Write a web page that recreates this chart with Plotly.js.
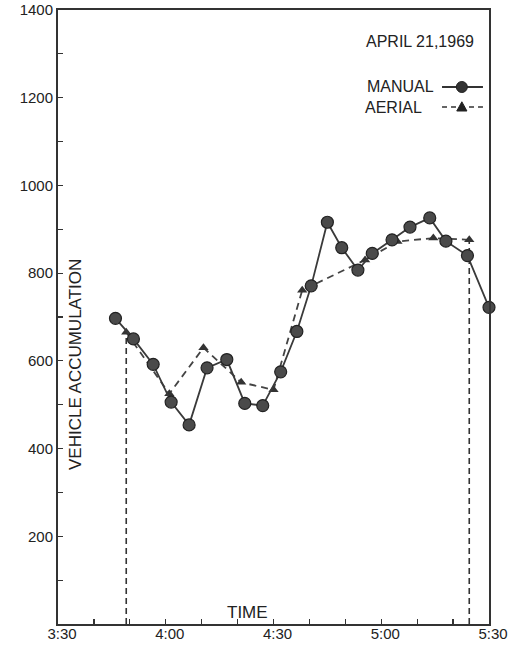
<!DOCTYPE html>
<html>
<head>
<meta charset="utf-8">
<script src="https://cdn.plot.ly/plotly-3.0.1.min.js"></script>
<style>html,body{margin:0;padding:0;background:#fff;}#chart{width:529px;height:645px;}</style>
</head>
<body>
<div id="chart"></div>
<script>
// Minutes after 3:30
const manualTime = [16, 21, 26.5, 31.5, 36.5, 41.5, 47, 52, 57, 62, 66.5, 70.5, 75, 79, 83.5, 87.5, 93, 98, 103.5, 108, 114, 120];
const manualCount = [697, 650, 592, 506, 454, 584, 603, 503, 498, 575, 667, 771, 916, 858, 807, 845, 876, 905, 926, 873, 840, 722];
const aerialTime = [19, 31, 40.5, 51, 60, 68, 85.5, 94.5, 104.5, 114.5];
const aerialCount = [665, 525, 630, 551, 534, 761, 830, 872, 880, 876];

const xTickVals = [0, 10, 20, 30, 40, 50, 60, 70, 80, 90, 100, 110, 120];
const xTickText = ['3:30', '', '', '4:00', '', '', '4:30', '', '', '5:00', '', '', '5:30'];
const yTickVals = [0, 100, 200, 300, 400, 500, 600, 700, 800, 900, 1000, 1100, 1200, 1300, 1400];
const yTickText = ['', '', '200', '', '400', '', '600', '', '800', '', '1000', '', '1200', '', '1400'];

const FONT = 'Liberation Sans, Arial, DejaVu Sans, sans-serif';
const INK = '#333333';

const firstA = 0, lastA = aerialTime.length - 1;

const traces = [
  { x: [aerialTime[firstA], aerialTime[firstA]], y: [0, aerialCount[firstA]], mode: 'lines',
    line: { color: INK, width: 1.6, dash: '6px,4px' }, showlegend: false, hoverinfo: 'skip' },
  { x: [aerialTime[lastA], aerialTime[lastA]], y: [0, aerialCount[lastA]], mode: 'lines',
    line: { color: INK, width: 1.6, dash: '6px,4px' }, showlegend: false, hoverinfo: 'skip' },
  { x: aerialTime, y: aerialCount, mode: 'lines+markers', name: 'AERIAL',
    line: { color: '#444', width: 1.8, dash: '7px,5px' },
    marker: { symbol: 'triangle-up', size: 9, color: '#333' }, showlegend: false, cliponaxis: false },
  { x: manualTime, y: manualCount, mode: 'lines+markers', name: 'MANUAL',
    line: { color: '#3a3a3a', width: 1.8 },
    marker: { symbol: 'circle', size: 12, color: '#4a4a4a', line: { color: '#222', width: 1.2 } },
    showlegend: false, cliponaxis: false }
];

// legend key geometry (paper units; plot area spans 431 x 614 px)
const kx0 = 0.891, kx1 = 0.986, kxc = 0.937;
const ky1 = 0.8746, ky2 = 0.842;
const rx = 5.5 / 431, ry = 5.5 / 614;

const layout = {
  width: 529, height: 645,
  margin: { l: 58, r: 40, t: 10, b: 21 },
  paper_bgcolor: '#fff', plot_bgcolor: '#fff',
  font: { family: FONT, color: '#222' },
  xaxis: {
    range: [0, 120], tickmode: 'array', tickvals: xTickVals, ticktext: xTickText,
    ticks: 'inside', ticklen: 5, tickwidth: 1.2, tickcolor: INK,
    ticklabelstandoff: -5, ticklabelshift: 4,
    showline: true, linecolor: INK, linewidth: 2, mirror: true,
    showgrid: false, zeroline: false, automargin: false,
    tickfont: { size: 15, family: FONT, color: '#222' }
  },
  yaxis: {
    range: [0, 1400], tickmode: 'array', tickvals: yTickVals, ticktext: yTickText,
    ticks: 'inside', ticklen: 5, tickwidth: 1.2, tickcolor: INK,
    showline: true, linecolor: INK, linewidth: 2, mirror: true,
    showgrid: false, zeroline: false, automargin: false,
    tickfont: { size: 15, family: FONT, color: '#222' }
  },
  shapes: [
    { type: 'line', xref: 'paper', yref: 'paper', x0: kx0, x1: kx1, y0: ky1, y1: ky1,
      line: { color: INK, width: 1.8 } },
    { type: 'circle', xref: 'paper', yref: 'paper', x0: kxc - rx, x1: kxc + rx, y0: ky1 - ry, y1: ky1 + ry,
      fillcolor: '#333', line: { color: '#222', width: 1 } },
    { type: 'line', xref: 'paper', yref: 'paper', x0: kx0, x1: kx1, y0: ky2, y1: ky2,
      line: { color: INK, width: 1.6, dash: '5px,4px' } },
    { type: 'path', xref: 'paper', yref: 'paper',
      path: 'M ' + kxc + ',' + (ky2 + 0.0085) + ' L ' + (kxc - 0.0118) + ',' + (ky2 - 0.0065) + ' L ' + (kxc + 0.0118) + ',' + (ky2 - 0.0065) + ' Z',
      fillcolor: '#222', line: { color: '#222', width: 1 } }
  ],
  annotations: [
    { text: 'VEHICLE ACCUMULATION', xref: 'paper', yref: 'paper', x: 0.042, y: 0.422,
      xanchor: 'center', yanchor: 'middle',
      textangle: -90, showarrow: false, font: { size: 17, family: FONT, color: '#222' } },
    { text: 'TIME', xref: 'paper', yref: 'paper', x: 0.44, y: 0.0, yanchor: 'bottom',
      showarrow: false, font: { size: 17, family: FONT, color: '#222' } },
    { text: 'APRIL 21,1969', xref: 'paper', yref: 'paper', x: 0.97, y: 0.9495, xanchor: 'right', yanchor: 'middle',
      showarrow: false, font: { size: 16, family: FONT, color: '#222' } },
    { text: 'MANUAL', xref: 'paper', yref: 'paper', x: 0.712, y: ky1, xanchor: 'left', yanchor: 'middle',
      showarrow: false, font: { size: 16, family: FONT, color: '#222' } },
    { text: 'AERIAL', xref: 'paper', yref: 'paper', x: 0.708, y: ky2, xanchor: 'left', yanchor: 'middle',
      showarrow: false, font: { size: 16, family: FONT, color: '#222' } }
  ]
};

Plotly.newPlot('chart', traces, layout, { displayModeBar: false, staticPlot: true });
</script>
</body>
</html>
